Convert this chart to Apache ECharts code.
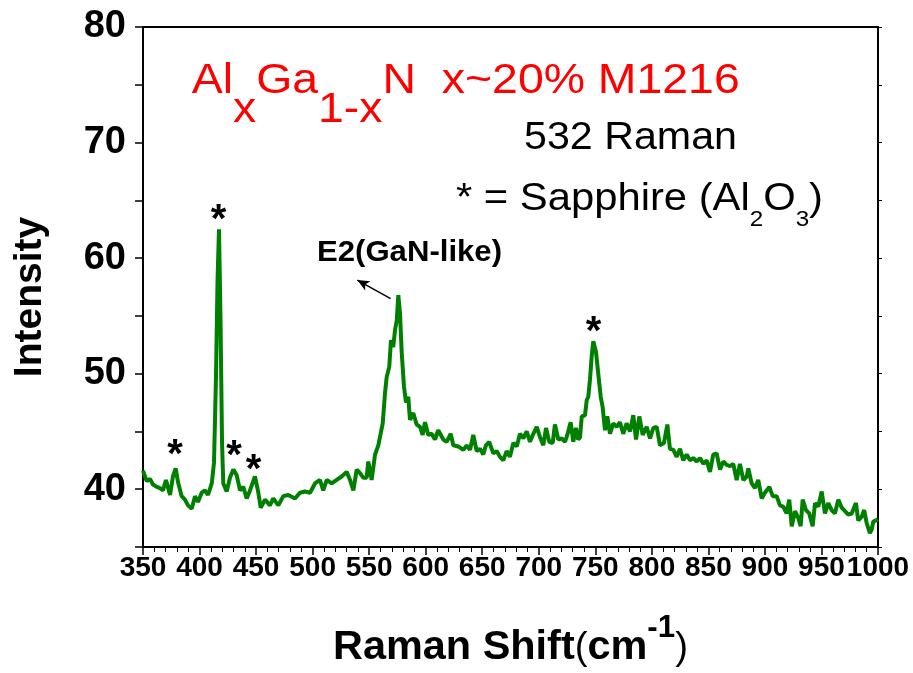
<!DOCTYPE html>
<html><head><meta charset="utf-8">
<script src="https://cdn.jsdelivr.net/npm/echarts@6/dist/echarts.min.js"></script>
<style>html,body{margin:0;padding:0;background:#fff}#c{width:913px;height:673px}</style>
</head><body><div id="c"></div><script>
// ---- data ----
const ramanShift = [350,353.3,356.2,358.8,362.4,365,367.7,370.3,373.9,376.5,378.9,381,384.2,387.1,389.8,393.1,396,398.6,401.9,404.8,407.5,410.8,412.8,414.6,415.9,417.2,418.5,419.9,421,424,426.9,429.9,432.9,435.8,438.7,441.7,444.6,449,452,454.1,457.9,462.3,465.2,469.7,474.1,478.5,480,484.4,488.8,493.3,497.7,502.1,506.5,509.4,512.5,516.9,521.3,525.7,530.1,533.1,536,539,541.9,544.8,547.8,549.2,552.2,555.2,558.1,559.6,562,564,565.5,567.8,569.3,571.3,572.9,574.4,575.8,577.3,578.8,580.8,582.6,584.6,586.1,589,592,595,597.3,599.4,602.3,605.3,608.2,611.1,615.6,618.6,622.1,624.4,628.8,633.3,636.3,639.2,642.1,645.1,648,650.9,653.3,656.2,659.8,662.8,665.7,668.6,671.6,674.5,677.5,680.5,683.4,686.3,689.3,692.2,695.2,698.2,701.1,704,706.4,709.3,712.3,714.3,717.3,720.3,723.2,725.2,728.2,730.5,732.9,734.9,736.5,738,740.9,742.4,743.8,745.3,746.8,748.2,750.6,752.6,754.8,756.5,758.6,760.6,763,765.9,768.9,771.8,774.7,777.7,780.7,783.6,786,788.9,791.9,795.4,798.4,801.3,804.3,807.2,810.7,813.7,816,819,822,824.9,827.8,830.8,833.7,836.6,839.7,842.6,845.5,848.5,851.4,854.3,857.3,860.3,863.2,866.2,869.1,872,875,877.9,880.9,883.9,885.3,888.3,891.2,894.1,897.1,900,903.9,906.9,910.4,913.3,916.2,919.2,921.5,923.7,926.6,929.5,931.6,933.4,936.3,939.2,942.2,944.3,947.2,950.2,953.1,956,959,961.9,964.9,967.9,970.8,973.7,976.7,980.5,982.5,985.5,987.8,989.9,992.8,994.4,995.8,998.2,1000];
const intensity = [41.6,40.7,40.9,40.4,40.2,40.1,39.9,40.8,39.5,41.1,41.8,40.6,39.4,39.1,38.6,38.3,39.4,38.9,39.7,39.9,39.5,40.5,42.3,50.0,58.0,62.5,55.0,44.0,40.5,39.8,41.0,41.7,41.2,39.9,40.2,39.2,39.9,41.1,39.7,38.4,39.1,38.6,39.2,38.6,39.4,39.5,39.5,39.2,39.7,39.8,39.7,40.5,40.8,39.9,40.8,40.5,40.8,41.1,41.5,40.8,39.9,41.7,41.4,41.0,41.0,42.4,40.8,43.0,43.8,43.7,45.7,48.3,49.7,50.6,52.9,52.3,53.8,54.6,56.8,55.2,51.8,48.9,47.5,48.0,46.0,46.6,45.6,45.4,44.7,45.8,44.7,44.8,44.3,45.1,44.3,44.1,44.8,43.8,43.7,43.4,43.8,43.4,44.7,43.3,43.5,43.0,43.8,44.1,43.1,43.3,42.8,42.5,43.3,42.8,44.0,43.7,44.8,44.4,45.0,44.1,44.8,45.4,44.5,43.8,45.3,44.1,44.0,45.6,44.3,44.4,44.1,44.7,45.8,44.1,45.3,44.3,44.5,46.3,46.4,47.7,48.0,49.5,51.5,52.8,51.9,50.0,48.0,47.1,45.1,46.3,44.8,45.7,45.4,45.8,44.8,45.7,45.0,46.4,44.3,46.3,44.7,45.4,44.4,45.3,45.4,43.8,44.0,45.6,43.5,43.4,42.8,43.5,42.5,43.0,42.5,42.7,42.4,42.7,42.2,42.5,41.5,43.0,43.1,41.7,42.4,42.1,42.0,42.2,40.8,42.2,40.8,41.1,41.8,40.5,40.1,40.8,39.2,39.7,40.2,39.4,39.4,38.6,38.5,37.9,39.1,36.8,38.1,37.5,36.8,39.1,38.2,37.9,36.8,38.8,38.5,39.8,37.9,38.8,38.2,37.9,39.1,38.4,38.1,37.8,37.9,38.8,37.3,37.6,38.2,37.1,36.2,36.5,37.2,37.3,37.4];
const xTickLabels = [350,400,450,500,550,600,650,700,750,800,850,900,950,1000];
const yTickLabels = [40,50,60,70,80];
const sapphireMarks = [[378.3,43.65],[416.8,64.0],[430.5,43.57],[447.7,42.36],[748.4,54.3]];
const e2Arrow = [[569.0,56.5],[539.5,58.1]];

const FONT = '"Liberation Sans", Arial, Helvetica, sans-serif';
const mctx = document.createElement('canvas').getContext('2d');
function textRow(x, baseline, pieces, targetWidth) {
  let cx = 0; const children = [];
  pieces.forEach(p => {
    const font = (p.weight || 'normal') + ' ' + p.size + 'px ' + FONT;
    mctx.font = font;
    const w = mctx.measureText(p.text).width;
    children.push({type: 'text', x: cx, y: (p.dy || 0) - 0.345 * p.size,
      style: {text: p.text, font: font, fill: p.color || '#000', align: 'left', verticalAlign: 'middle'}});
    cx += w;
  });
  return {type: 'group', x: x, y: baseline, scaleX: targetWidth ? targetWidth / cx : 1, originX: 0, children: children};
}

const chart = echarts.init(document.getElementById('c'), null, {renderer: 'canvas'});
const RED = '#ff0000';
const option = {
  animation: false,
  backgroundColor: '#fff',
  grid: {left: 143, right: 35, top: 27, bottom: 126, containLabel: false, outerBoundsMode: 'none'},
  xAxis: [{
    type: 'value', min: 350, max: 1000, interval: 50, position: 'bottom',
    axisLine: {show: true, onZero: false, lineStyle: {color: '#000', width: 2}},
    axisTick: {show: true, inside: false, length: 8, lineStyle: {color: '#000', width: 1.5}},
    minorTick: {show: true, splitNumber: 5, length: 5, lineStyle: {color: '#000', width: 1}},
    splitLine: {show: false},
    axisLabel: {show: true, color: '#000', fontWeight: 'bold', fontFamily: FONT, fontSize: 28, margin: 7,
      interval: 0, hideOverlap: false, showMinLabel: true, showMaxLabel: true,
      formatter: v => xTickLabels.includes(v) ? String(v) : ''}
  }, {
    type: 'value', min: 350, max: 1000, interval: 50, position: 'top',
    axisLine: {show: true, onZero: false, lineStyle: {color: '#000', width: 2}},
    axisTick: {show: false}, axisLabel: {show: false}, splitLine: {show: false}
  }],
  yAxis: [{
    type: 'value', min: 35, max: 80, interval: 5, position: 'left',
    axisLine: {show: true, onZero: false, lineStyle: {color: '#000', width: 2}},
    axisTick: {show: true, inside: false, length: 8, lineStyle: {color: '#000', width: 1.5}},
    splitLine: {show: false},
    axisLabel: {show: true, color: '#000', fontWeight: 'bold', fontFamily: FONT, fontSize: 38, margin: 17,
      interval: 0, formatter: v => yTickLabels.includes(v) ? String(v) : ''}
  }, {
    type: 'value', min: 35, max: 80, interval: 5, position: 'right',
    axisLine: {show: true, onZero: false, lineStyle: {color: '#000', width: 2}},
    axisTick: {show: true, inside: false, length: 4, lineStyle: {color: '#000', width: 1}},
    axisLabel: {show: false}, splitLine: {show: false}
  }],
  series: [{
    type: 'line', xAxisIndex: 0, yAxisIndex: 0,
    data: ramanShift.map((x, i) => [x, intensity[i]]),
    showSymbol: false, symbol: 'none', smooth: false,
    lineStyle: {color: '#008000', width: 4},
    markPoint: {
      symbol: 'circle', symbolSize: 1, itemStyle: {color: 'rgba(0,0,0,0)'}, silent: true,
      label: {show: true, formatter: '*', color: '#000', fontSize: 40, fontWeight: 'bold', fontFamily: FONT,
        position: 'inside', offset: [0, 9]},
      data: sapphireMarks.map(m => ({coord: m}))
    },
    markLine: {
      silent: true, symbol: ['none', 'arrow'], symbolSize: [8, 12],
      lineStyle: {color: '#000', width: 1.5, type: 'solid'}, label: {show: false},
      data: [[{coord: e2Arrow[0]}, {coord: e2Arrow[1]}]]
    }
  }],
  graphic: [
    textRow(191.7, 96, [
      {text: 'Al', size: 43, color: RED}, {text: 'x', size: 43, dy: 29, color: RED},
      {text: 'Ga', size: 43, color: RED}, {text: '1-x', size: 43, dy: 29, color: RED},
      {text: 'N', size: 43, color: RED}, {text: '  x~20% M1216', size: 43, color: RED}
    ], 548),
    textRow(524, 151.5, [{text: '532 Raman', size: 38}], 213),
    textRow(456, 213, [
      {text: '* = Sapphire (Al', size: 38}, {text: '2', size: 22, dy: 15},
      {text: 'O', size: 38}, {text: '3', size: 22, dy: 15}, {text: ')', size: 38}
    ], 367),
    textRow(317, 263.5, [{text: 'E2(GaN-like)', size: 30, weight: 'bold'}], 185),
    {type: 'text', x: 30, y: 297, rotation: Math.PI / 2,
      style: {text: 'Intensity', font: 'bold 39px ' + FONT, fill: '#000', align: 'center', verticalAlign: 'middle'}},
    textRow(333, 662, [
      {text: 'Raman Shift', size: 41, weight: 'bold'}, {text: '(', size: 38},
      {text: 'cm', size: 41, weight: 'bold'}, {text: '-1', size: 31, weight: 'bold', dy: -23},
      {text: ')', size: 38}
    ], 355)
  ]
};
chart.setOption(option);
</script></body></html>
